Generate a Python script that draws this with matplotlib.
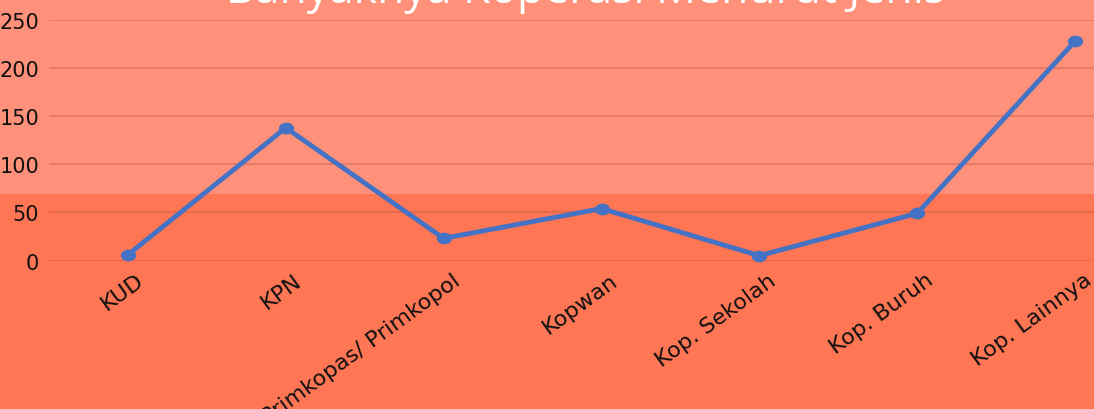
import numpy as np
import matplotlib
matplotlib.use("Agg")
import matplotlib.pyplot as plt
import matplotlib.transforms as mtransforms
from matplotlib.patches import Rectangle
from matplotlib.path import Path

# data
jenis = ["KUD", "KPN", "Primkopas/ Primkopol", "Kopwan",
         "Kop. Sekolah", "Kop. Buruh", "Kop. Lainnya"]
jumlah = [6, 138, 23, 54, 5, 49, 228]
yticks = [0, 50, 100, 150, 200, 250]
judul = "Banyaknya Koperasi Menurut Jenis"

W, H = 1094, 410
fig = plt.figure(figsize=(W / 100, H / 100), dpi=100)

# two-tone background
fig.patches.append(Rectangle((0, 0), 1, 215 / H, transform=fig.transFigure,
                             facecolor="#ff7654", edgecolor="none", zorder=-10))
fig.patches.append(Rectangle((0, 215 / H), 1, 1 - 215 / H, transform=fig.transFigure,
                             facecolor="#ff917a", edgecolor="none", zorder=-10))

# axes run past the right edge of the picture (the reference is cropped)
left, right = 49 / W, 1154 / W
bottom, top = (H - 261.5) / H, (H - 21) / H
ax = fig.add_axes([left, bottom, right - left, top - bottom])
ax.patch.set_visible(False)

# slightly wide ellipse marker
circ = Path.unit_circle()
ellipse = Path(circ.vertices * np.array([1.35, 1.0]), circ.codes)

x = np.arange(len(jenis))
ax.plot(x, jumlah, color="#4472c4", lw=3.5, marker=ellipse, ms=10,
        solid_joinstyle="round", solid_capstyle="round", zorder=3, clip_on=False)

ax.set_xlim(-0.5, len(jenis) - 0.5)
ax.set_ylim(0, 250)
ax.set_yticks(yticks)
ax.grid(axis="y", color="#b8523f", alpha=0.4, lw=1.2)
ax.set_axisbelow(True)
for s in ax.spines.values():
    s.set_visible(False)
ax.tick_params(axis="both", length=0)
ax.tick_params(axis="y", pad=7, labelsize=15, labelcolor="#111111")

ax.set_xticks(x)
ax.set_xticklabels(jenis, rotation=36, ha="right", va="center",
                   rotation_mode="anchor", fontsize=16, color="#111111")
ax.tick_params(axis="x", pad=0)
offset = mtransforms.ScaledTranslation(14 / 100, -17 / 100, fig.dpi_scale_trans)
for lab in ax.get_xticklabels():
    lab.set_transform(lab.get_transform() + offset)

# title is cropped by the top edge, as in the reference
fig.text(585 / W, (H - 3) / H, judul, ha="center", va="baseline",
         fontsize=32, color="white", family="Open Sans")

fig.savefig("out.png", dpi=100)
